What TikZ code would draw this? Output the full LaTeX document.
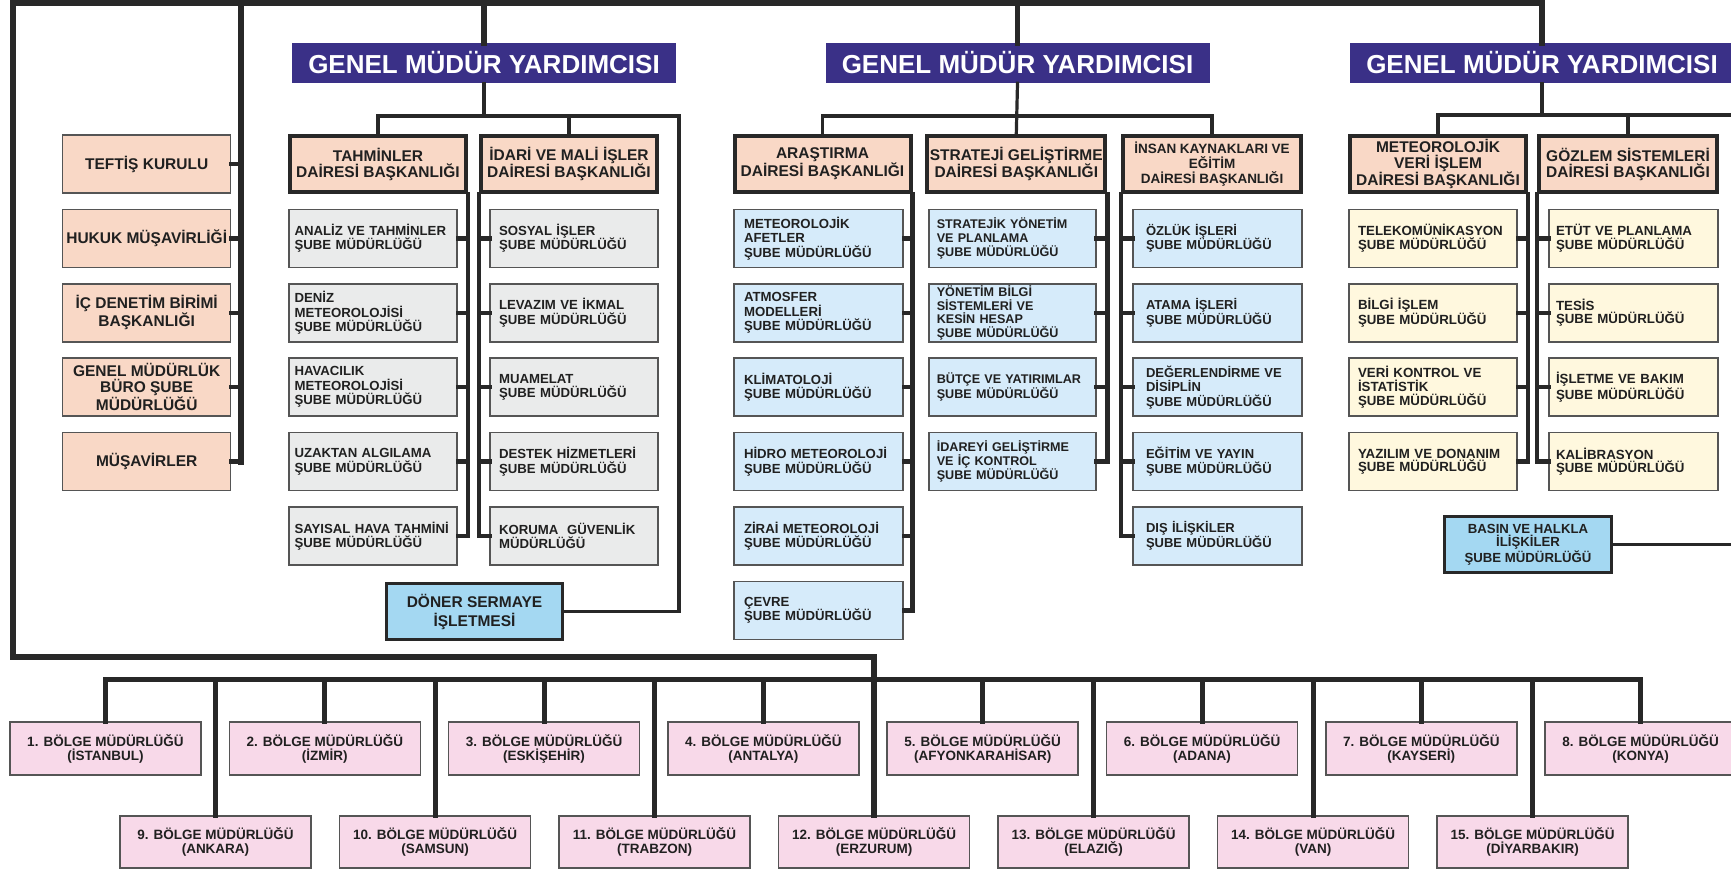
\documentclass[tikz,border=0pt]{standalone}
\usepackage{fontspec}
\setmainfont{Liberation Sans}
\definecolor{gmyblue}{RGB}{58,48,135}
\definecolor{peach}{RGB}{249,216,198}
\definecolor{subgray}{RGB}{234,235,235}
\definecolor{subblue}{RGB}{214,235,250}
\definecolor{subyellow}{RGB}{255,248,222}
\definecolor{skyblue}{RGB}{164,216,242}
\definecolor{pinkish}{RGB}{248,217,233}
\definecolor{lineblack}{RGB}{40,40,40}
\definecolor{boxgray}{RGB}{85,85,85}
\definecolor{textgray}{RGB}{32,32,32}
\tikzset{
  gmy/.style={fill=gmyblue, text=white, font=\fontsize{26}{28}\selectfont\bfseries, minimum width=384, minimum height=40, inner sep=0pt},
  daire/.style={draw=lineblack, line width=4, fill=peach, text=textgray, font=\fontsize{15.5}{16}\selectfont\bfseries, align=center, minimum height=56, inner sep=0pt},
  kurul/.style={draw=boxgray, line width=1.5, fill=peach, text=textgray, font=\fontsize{15.5}{16}\selectfont\bfseries, align=center, minimum width=168, minimum height=58, inner sep=0pt},
  sube/.style={draw=boxgray, line width=1.5, text=textgray, font=\fontsize{13.2}{14.5}\selectfont\bfseries, align=left, minimum height=58, inner ysep=0pt},
  bolge/.style={draw=boxgray, line width=1.5, fill=pinkish, text=textgray, font=\fontsize{13.5}{14}\selectfont\bfseries, align=center, minimum width=191, minimum height=53, inner sep=0pt},
  isletme/.style={draw=lineblack, line width=3.5, fill=skyblue, text=textgray, align=center, minimum height=56, inner sep=0pt},
  mainline/.style={draw=lineblack, line width=6},
  spine/.style={draw=lineblack, line width=4.5},
  link/.style={draw=lineblack, line width=3.2},
}
\begin{document}
\begin{tikzpicture}[x=1pt, y=-1pt, line join=miter, line cap=rect]
\def\rowy{164} \def\rowh{74.4}
\useasboundingbox (0,0) rectangle (1731,870);

% genel mudur yardimcilari
\node[gmy] (gmy1) at (484,63) {GENEL MÜDÜR YARDIMCISI};
\node[gmy] (gmy2) at (1017.5,63) {GENEL MÜDÜR YARDIMCISI};
\node[gmy] (gmy3) at (1542,63) {GENEL MÜDÜR YARDIMCISI};

% daire baskanliklari
\node[daire, minimum width=176] (tah) at (378,\rowy) {TAHMİNLER\\DAİRESİ BAŞKANLIĞI};
\node[daire, minimum width=176] (ida) at (569,\rowy) {İDARİ VE MALİ İŞLER\\DAİRESİ BAŞKANLIĞI};
\node[daire, minimum width=176] (ara) at (822.5,\rowy) {ARAŞTIRMA\\DAİRESİ BAŞKANLIĞI};
\node[daire, minimum width=178] (str) at (1016.3,\rowy) {STRATEJİ GELİŞTİRME\\DAİRESİ BAŞKANLIĞI};
\node[daire, minimum width=178, font=\fontsize{13.5}{15}\selectfont\bfseries] (ins) at (1212,\rowy) {İNSAN KAYNAKLARI VE\\EĞİTİM\\DAİRESİ BAŞKANLIĞI};
\node[daire, minimum width=176] (mvi) at (1438,\rowy) {METEOROLOJİK\\VERİ İŞLEM\\DAİRESİ BAŞKANLIĞI};
\node[daire, minimum width=178] (goz) at (1628,\rowy) {GÖZLEM SİSTEMLERİ\\DAİRESİ BAŞKANLIĞI};

% kurullar
\foreach \t [count=\i] in {{TEFTİŞ KURULU},{HUKUK MÜŞAVİRLİĞİ},{İÇ DENETİM BİRİMİ\\BAŞKANLIĞI},{GENEL MÜDÜRLÜK\\BÜRO ŞUBE\\MÜDÜRLÜĞÜ},{MÜŞAVİRLER}}
  \node[kurul] (kur\i) at (146.7,{\rowy+\rowh*(\i-1)}) {\t};

% sube mudurlukleri
\foreach \t [count=\i] in {{ANALİZ VE TAHMİNLER\\ŞUBE MÜDÜRLÜĞÜ},{DENİZ\\METEOROLOJİSİ\\ŞUBE MÜDÜRLÜĞÜ},{HAVACILIK\\METEOROLOJİSİ\\ŞUBE MÜDÜRLÜĞÜ},{UZAKTAN ALGILAMA\\ŞUBE MÜDÜRLÜĞÜ},{SAYISAL HAVA TAHMİNİ\\ŞUBE MÜDÜRLÜĞÜ}}
  \node[sube, fill=subgray, inner xsep=5.5pt, text width=157pt] (tah\i) at (373,{\rowy+\rowh*\i}) {\t};
\foreach \t [count=\i] in {{SOSYAL İŞLER\\ŞUBE MÜDÜRLÜĞÜ},{LEVAZIM VE İKMAL\\ŞUBE MÜDÜRLÜĞÜ},{MUAMELAT\\ŞUBE MÜDÜRLÜĞÜ},{DESTEK HİZMETLERİ\\ŞUBE MÜDÜRLÜĞÜ},{KORUMA \ GÜVENLİK\\MÜDÜRLÜĞÜ}}
  \node[sube, fill=subgray, inner xsep=9pt, text width=150pt] (ida\i) at (574,{\rowy+\rowh*\i}) {\t};
\foreach \t [count=\i] in {{METEOROLOJİK\\AFETLER\\ŞUBE MÜDÜRLÜĞÜ},{ATMOSFER\\MODELLERİ\\ŞUBE MÜDÜRLÜĞÜ},{KLİMATOLOJİ\\ŞUBE MÜDÜRLÜĞÜ},{HİDRO METEOROLOJİ\\ŞUBE MÜDÜRLÜĞÜ},{ZİRAİ METEOROLOJİ\\ŞUBE MÜDÜRLÜĞÜ},{ÇEVRE\\ŞUBE MÜDÜRLÜĞÜ}}
  \node[sube, fill=subblue, inner xsep=10pt, text width=149pt] (ara\i) at (818.5,{\rowy+\rowh*\i}) {\t};
\foreach \t [count=\i] in {{STRATEJİK YÖNETİM\\VE PLANLAMA\\ŞUBE MÜDÜRLÜĞÜ},{YÖNETİM BİLGİ\\SİSTEMLERİ VE\\KESİN HESAP\\ŞUBE MÜDÜRLÜĞÜ},{BÜTÇE VE YATIRIMLAR\\ŞUBE MÜDÜRLÜĞÜ},{İDAREYİ GELİŞTİRME\\VE İÇ KONTROL\\ŞUBE MÜDÜRLÜĞÜ}}
  \node[sube, fill=subblue, inner xsep=8pt, text width=151pt, font=\fontsize{12.6}{13.6}\selectfont\bfseries] (str\i) at (1012.3,{\rowy+\rowh*\i}) {\t};
\foreach \t [count=\i] in {{ÖZLÜK İŞLERİ\\ŞUBE MÜDÜRLÜĞÜ},{ATAMA İŞLERİ\\ŞUBE MÜDÜRLÜĞÜ},{DEĞERLENDİRME VE\\DİSİPLİN\\ŞUBE MÜDÜRLÜĞÜ},{EĞİTİM VE YAYIN\\ŞUBE MÜDÜRLÜĞÜ},{DIŞ İLİŞKİLER\\ŞUBE MÜDÜRLÜĞÜ}}
  \node[sube, fill=subblue, inner xsep=13pt, text width=143pt, font=\fontsize{13}{14.5}\selectfont\bfseries] (ins\i) at (1217.5,{\rowy+\rowh*\i}) {\t};
\foreach \t [count=\i] in {{TELEKOMÜNİKASYON\\ŞUBE MÜDÜRLÜĞÜ},{BİLGİ İŞLEM\\ŞUBE MÜDÜRLÜĞÜ},{VERİ KONTROL VE\\İSTATİSTİK\\ŞUBE MÜDÜRLÜĞÜ},{YAZILIM VE DONANIM\\ŞUBE MÜDÜRLÜĞÜ}}
  \node[sube, fill=subyellow, inner xsep=9pt, text width=150pt, font=\fontsize{13.3}{13.6}\selectfont\bfseries] (mvi\i) at (1433,{\rowy+\rowh*\i}) {\t};
\foreach \t [count=\i] in {{ETÜT VE PLANLAMA\\ŞUBE MÜDÜRLÜĞÜ},{TESİS\\ŞUBE MÜDÜRLÜĞÜ},{İŞLETME VE BAKIM\\ŞUBE MÜDÜRLÜĞÜ},{KALİBRASYON\\ŞUBE MÜDÜRLÜĞÜ}}
  \node[sube, fill=subyellow, inner xsep=7pt, text width=155pt, font=\fontsize{13.3}{13.6}\selectfont\bfseries] (goz\i) at (1633.5,{\rowy+\rowh*\i}) {\t};

\node[isletme, minimum width=176, font=\fontsize{15.5}{19}\selectfont\bfseries] (doner) at (474.5,611.5) {DÖNER SERMAYE\\İŞLETMESİ};
\node[isletme, minimum width=167, font=\fontsize{13.2}{13.8}\selectfont\bfseries] (basin) at (1528,544.5) {BASIN VE HALKLA\\İLİŞKİLER\\ŞUBE MÜDÜRLÜĞÜ};

% bolge mudurlukleri
\foreach \t [count=\i] in {İSTANBUL,İZMİR,ESKİŞEHİR,ANTALYA,AFYONKARAHİSAR,ADANA,KAYSERİ,KONYA}
  \node[bolge] (bol\i) at ({105.5+219.3*(\i-1)},748.5) {\i. BÖLGE MÜDÜRLÜĞÜ\\(\t)};
\foreach \t [count=\i from 9] in {ANKARA,SAMSUN,TRABZON,ERZURUM,ELAZIĞ,VAN,DİYARBAKIR}
  \node[bolge, minimum height=52] (bol\i) at ({215.5+219.5*(\i-9)},842) {\i. BÖLGE MÜDÜRLÜĞÜ\\(\t)};

% ana hatlar
\path (12.5,3) coordinate (tl)
      (12.5,657) coordinate (bl)
      (241,3) coordinate (kurtop)
      (0,679) coordinate (bus)
      (679,116) coordinate (g1r)
      (0,116) coordinate (g2bus)
      (1731,115) coordinate (g3r)
      (1731,544.5) coordinate (g3b);
\draw[mainline] (bol12.north) |- (bl) -- (tl) -| (gmy3.north);
\draw[mainline, line width=5.5] (gmy1.north |- tl) -- (gmy1.north)
  (gmy2.north |- tl) -- (gmy2.north);
\draw[mainline] (kurtop) -- (kurtop |- kur5.east);
\foreach \i in {1,...,5} \draw[spine] (kur\i.east) -- (kur\i.east -| kurtop);

% yardimci baglantilari
\draw[link] (gmy1.south) -- (gmy1.south |- g1r);
\draw[link] (tah.north) |- (g1r) |- (doner.east);
\draw[link] (ida.north) -- (ida.north |- g1r);
\draw[link] (gmy2.south) -- (str.north);
\draw[link] (ara.north) |- (ins.north |- g2bus) -- (ins.north);
\draw[link] (mvi.north) |- (g3r);
\draw[link] (gmy3.south) -- (gmy3.south |- g3r);
\draw[link] (goz.north) -- (goz.north |- g3r);
\draw[link, line width=2.5] (basin.east) -- (g3b);

% daire omurgalari
\draw[spine] (tah.south east) -- (tah.south east |- tah5.east);
\draw[spine] (ida.south west) -- (ida.south west |- ida5.west);
\draw[spine] (ara.south east) -- (ara.south east |- ara6.east);
\draw[spine] (str.south east) -- (str.south east |- str4.east);
\draw[spine] (ins.south west) -- (ins.south west |- ins5.west);
\draw[spine] (mvi.south east) -- (mvi.south east |- mvi4.east);
\draw[spine] (goz.south west) -- (goz.south west |- goz4.west);
\foreach \i in {1,...,5}{
  \draw[spine] (tah\i.east) -- (tah\i.east -| tah.south east);
  \draw[spine] (ida\i.west) -- (ida\i.west -| ida.south west);
  \draw[spine] (ins\i.west) -- (ins\i.west -| ins.south west);}
\foreach \i in {1,...,6} \draw[spine] (ara\i.east) -- (ara\i.east -| ara.south east);
\foreach \i in {1,...,4}{
  \draw[spine] (str\i.east) -- (str\i.east -| str.south east);
  \draw[spine] (mvi\i.east) -- (mvi\i.east -| mvi.south east);
  \draw[spine] (goz\i.west) -- (goz\i.west -| goz.south west);}

% bolge hatti
\draw[mainline, line width=5] (bol1.north |- bus) -- (bol8.north |- bus);
\foreach \i in {1,...,15} \draw[mainline, line width=5] (bol\i.north) -- (bol\i.north |- bus);
\end{tikzpicture}
\end{document}
